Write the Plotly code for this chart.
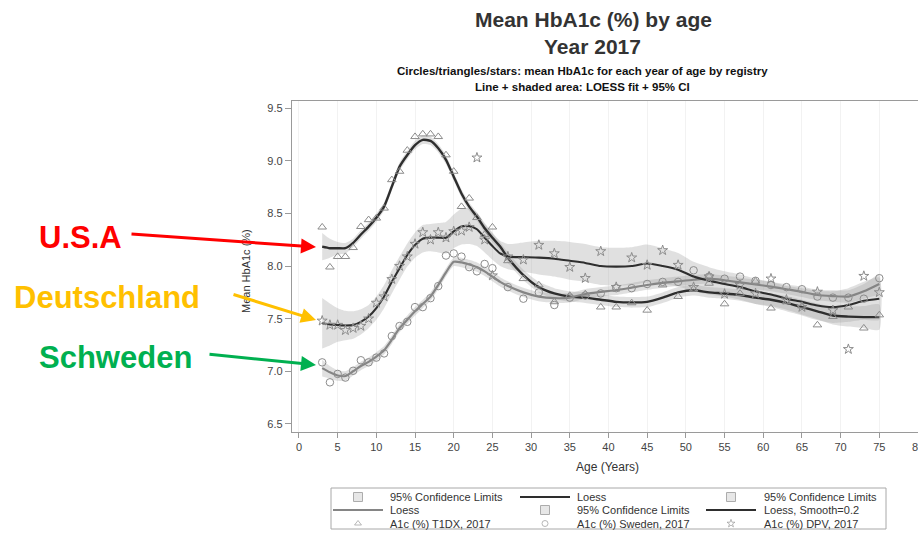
import plotly.graph_objects as go

W, H = 918, 533

# ---------------- data ----------------
ages = list(range(3, 26)) + list(range(27, 76, 2))

t1dx = [8.37, 7.99, 8.09, 8.09, 8.175, 8.375, 8.44, 8.455, 8.55, 8.82, 8.90, 9.10,
        9.23, 9.255, 9.255, 9.23, 9.056, 8.90, 8.565, 8.645, 8.46, 8.30, 8.37,
        8.05, 7.88, 7.82, 7.66, 7.72, 7.735, 7.61, 7.61, 7.65, 7.58, 7.82, 7.71,
        7.78, 7.836, 7.64, 7.74, 7.855, 7.60, 7.66, 7.62, 7.44, 7.52, 7.61, 7.41, 7.535]

sweden = [7.085, 6.895, 6.975, 6.94, 7.005, 7.105, 7.085, 7.13, 7.17, 7.335, 7.43, 7.47,
          7.61, 7.61, 7.695, 7.81, 8.10, 8.12, 8.09, 7.99, 7.95, 8.02, 7.98,
          7.80, 7.69, 7.75, 7.63, 7.70, 7.72, 7.74, 7.79, 7.79, 7.83, 7.85, 7.85,
          7.96, 7.90, 7.88, 7.90, 7.86, 7.82, 7.80, 7.78, 7.71, 7.70, 7.70, 7.69, 7.885]

dpv = [7.48, 7.44, 7.44, 7.39, 7.41, 7.43, 7.50, 7.65, 7.71, 7.875, 8.00, 8.09,
       8.21, 8.32, 8.25, 8.32, 8.27, 8.33, 8.335, 8.37, 9.03, 8.25, 7.91,
       8.09, 8.06, 8.20, 8.12, 7.99, 7.885, 8.14, 7.80, 8.08, 8.01, 8.15, 8.01,
       7.80, 7.90, 7.735, 7.82, 7.74, 7.88, 7.68, 7.61, 7.755, 7.58, 7.21, 7.905, 7.75]

fit_ages = list(range(3, 27)) + list(range(27, 76, 2))

usa_fit = [8.185, 8.17, 8.17, 8.17, 8.22, 8.30, 8.375, 8.46, 8.565, 8.755, 8.945, 9.056,
           9.15, 9.20, 9.19, 9.12, 9.01, 8.85, 8.69, 8.565, 8.47, 8.36, 8.27, 8.185,
           8.08, 7.915, 7.80, 7.74, 7.71, 7.70, 7.68, 7.66, 7.655, 7.66, 7.70, 7.75,
           7.77, 7.75, 7.74, 7.725, 7.70, 7.68, 7.65, 7.61, 7.57, 7.53, 7.52, 7.515, 7.515]
usa_ci = [0.13, 0.09, 0.06, 0.05] + [0.04] * 20 + [0.05] * 15 + \
         [0.055, 0.06, 0.06, 0.065, 0.07, 0.075, 0.085, 0.095, 0.105, 0.12]

swe_fit = [7.03, 6.99, 6.96, 6.955, 7.00, 7.05, 7.09, 7.14, 7.20, 7.30, 7.41, 7.49,
           7.57, 7.64, 7.71, 7.82, 7.94, 8.04, 8.035, 8.015, 7.99, 7.95, 7.90, 7.85,
           7.81, 7.75, 7.71, 7.695, 7.70, 7.735, 7.755, 7.77, 7.795, 7.82, 7.84, 7.855,
           7.87, 7.88, 7.865, 7.845, 7.825, 7.805, 7.78, 7.755, 7.725, 7.715, 7.71, 7.76, 7.83]
swe_ci = [0.08, 0.06, 0.05, 0.045] + [0.04] * 14 + [0.045] * 6 + [0.045] * 19 + \
         [0.05, 0.05, 0.055, 0.06, 0.07, 0.09]

dpv_fit = [7.456, 7.445, 7.44, 7.435, 7.44, 7.47, 7.52, 7.60, 7.71, 7.85, 7.98, 8.105,
           8.20, 8.26, 8.27, 8.27, 8.27, 8.33, 8.375, 8.38, 8.35, 8.27, 8.19, 8.12,
           8.09, 8.085, 8.08, 8.07, 8.05, 8.03, 8.00, 7.995, 8.00, 8.025, 8.00, 7.965,
           7.90, 7.86, 7.83, 7.80, 7.76, 7.73, 7.69, 7.66, 7.625, 7.61, 7.63, 7.67, 7.69]
dpv_ci = [0.24, 0.20, 0.16, 0.14, 0.13, 0.12, 0.11, 0.11, 0.11, 0.11, 0.11, 0.11,
          0.12, 0.13, 0.13, 0.14, 0.15, 0.16, 0.17, 0.17, 0.16, 0.14, 0.13, 0.12,
          0.12, 0.14, 0.16, 0.17, 0.18, 0.18, 0.18, 0.18, 0.18, 0.18, 0.17, 0.16,
          0.14, 0.13, 0.12, 0.12, 0.12, 0.12, 0.12, 0.13, 0.14, 0.15, 0.16, 0.18, 0.20]

x_ticks = list(range(0, 81, 5))
y_ticks = [6.5, 7.0, 7.5, 8.0, 8.5, 9.0, 9.5]

legend_rows = [
    [("square", "95% Confidence Limits"), ("dark", "Loess"), ("square", "95% Confidence Limits")],
    [("gray", "Loess"), ("square", "95% Confidence Limits"), ("dark", "Loess, Smooth=0.2")],
    [("triangle-up-open", "A1c (%) T1DX, 2017"), ("circle-open", "A1c (%) Sweden, 2017"),
     ("star-open", "A1c (%) DPV, 2017")],
]

# ---------------- figure ----------------
FONT = "Liberation Sans, Arial, sans-serif"
BAND = "rgba(160,160,160,0.33)"
DARK = "#2e2e2e"
GRAY = "#858585"
MARK = "#8c8c8c"

fig = go.Figure()

for fit, half in [(usa_fit, usa_ci), (swe_fit, swe_ci), (dpv_fit, dpv_ci)]:
    upper = [f + h for f, h in zip(fit, half)]
    lower = [f - h for f, h in zip(fit, half)]
    fig.add_trace(go.Scatter(
        x=fit_ages + fit_ages[::-1], y=upper + lower[::-1],
        fill="toself", fillcolor=BAND, mode="lines",
        line=dict(width=0, shape="spline", smoothing=0.6),
        hoverinfo="skip", showlegend=False))

fig.add_trace(go.Scatter(x=fit_ages, y=usa_fit, mode="lines",
                         line=dict(color=DARK, width=2.4, shape="spline", smoothing=0.6),
                         showlegend=False))
fig.add_trace(go.Scatter(x=fit_ages, y=swe_fit, mode="lines",
                         line=dict(color=GRAY, width=2.2, shape="spline", smoothing=0.6),
                         showlegend=False))
fig.add_trace(go.Scatter(x=fit_ages, y=dpv_fit, mode="lines",
                         line=dict(color=DARK, width=2.1, shape="spline", smoothing=0.6),
                         showlegend=False))

for vals, sym in [(t1dx, "triangle-up-open"), (sweden, "circle-open"), (dpv, "star-open")]:
    fig.add_trace(go.Scatter(x=ages, y=vals, mode="markers",
                             marker=dict(symbol=sym, size=7.5, color=MARK, line=dict(width=1)),
                             showlegend=False))

# ---------------- pixel overlay (axes x2/y2 = page pixels) ----------------
annotations = []
shapes = []


def txt(x, y, text, size, color="#333333", xanchor="center", angle=0, bold=False):
    annotations.append(dict(
        x=x, y=y, xref="x2", yref="y2", text=("<b>%s</b>" % text) if bold else text,
        showarrow=False, xanchor=xanchor, yanchor="middle", textangle=angle,
        font=dict(family=FONT, size=size, color=color)))


txt(593, 19, "Mean HbA1c (%) by age", 21, bold=True)
txt(592, 46, "Year 2017", 21, bold=True)
txt(582, 71, "Circles/triangles/stars: mean HbA1c for each year of age by registry", 11.5,
    color="#111111", bold=True)
txt(582, 87, "Line + shaded area: LOESS fit + 95% CI", 11.5, color="#111111", bold=True)
txt(246, 271, "Mean HbA1c (%)", 11, angle=-90)
txt(607, 467, "Age (Years)", 12)

# country labels with arrows
for label, cx, cy, color, start, tip in [
    ("U.S.A", 80, 237, "#FF0000", (130, 234), (316, 247)),
    ("Deutschland", 107, 297, "#FFC000", (232, 294), (316, 320)),
    ("Schweden", 115, 357, "#00B050", (208, 354), (316, 365)),
]:
    txt(cx, cy, label, 31, color=color, bold=True)
    annotations.append(dict(
        x=tip[0], y=tip[1], ax=start[0], ay=start[1], xref="x2", yref="y2",
        axref="x2", ayref="y2", text="", showarrow=True, arrowhead=2,
        arrowsize=1.0, arrowwidth=3, arrowcolor=color))

# legend box
shapes.append(dict(type="rect", xref="x2", yref="y2", x0=331, x1=886, y0=488, y1=529,
                   line=dict(color="#a8a8a8", width=1), fillcolor="rgba(0,0,0,0)"))
row_y = [497, 510, 523.5]
col_sym = [358, 545, 731]
col_txt = [388, 575, 762]
sym_x, sym_y, sym_s, sym_fill = [], [], [], []
for r, row in enumerate(legend_rows):
    for c, (kind, label) in enumerate(row):
        y = row_y[r]
        if kind in ("dark", "gray"):
            shapes.append(dict(type="line", xref="x2", yref="y2",
                               x0=col_sym[c] - 25, x1=col_sym[c] + 25, y0=y, y1=y,
                               line=dict(color=DARK if kind == "dark" else GRAY, width=2)))
        else:
            sym_x.append(col_sym[c])
            sym_y.append(y)
            sym_s.append(kind)
            sym_fill.append("#dedede" if kind == "square" else "#9a9a9a")
        txt(col_txt[c], y, label, 11, xanchor="left")

fig.add_trace(go.Scatter(x=sym_x, y=sym_y, xaxis="x2", yaxis="y2", mode="markers",
                         marker=dict(symbol=sym_s, size=[9 if s == "square" else 6 for s in sym_s],
                                     color=sym_fill, line=dict(color="#8a8a8a", width=1)),
                         hoverinfo="skip", showlegend=False))

fig.update_layout(
    width=W, height=H,
    margin=dict(l=0, r=0, t=0, b=0, autoexpand=False),
    paper_bgcolor="white", plot_bgcolor="rgba(0,0,0,0)",
    font=dict(family=FONT, color="#444444"),
    showlegend=False,
    xaxis=dict(domain=[292 / W, 1], range=[-0.9, 80], tickmode="array", tickvals=x_ticks,
               ticks="outside", ticklen=5, tickcolor="#9a9a9a", showline=True,
               linecolor="#9a9a9a", linewidth=1.2, mirror=True, showgrid=True,
               gridcolor="#f2f2f2", zeroline=False, tickfont=dict(size=11, color="#444444"),
               ticklabeloverflow="allow", automargin=False, anchor="y"),
    yaxis=dict(domain=[1 - 432 / H, 1 - 101 / H], range=[6.423, 9.569], tickmode="array",
               tickvals=y_ticks, ticktext=["%.1f" % v for v in y_ticks],
               ticks="outside", ticklen=6, tickcolor="#9a9a9a", showline=True,
               linecolor="#9a9a9a", linewidth=1.2, mirror=True, showgrid=False,
               zeroline=False, tickfont=dict(size=11, color="#444444"),
               automargin=False, anchor="x"),
    xaxis2=dict(domain=[0, 1], range=[0, W], visible=False, anchor="y2", fixedrange=True),
    yaxis2=dict(domain=[0, 1], range=[H, 0], visible=False, anchor="x2", fixedrange=True),
    annotations=annotations,
    shapes=shapes,
)

fig.write_html(
    "out.html",
    config={"displayModeBar": False, "staticPlot": True},
    post_script="document.body.style.margin='0';document.body.style.padding='0';"
                "document.body.style.overflow='hidden';",
)
